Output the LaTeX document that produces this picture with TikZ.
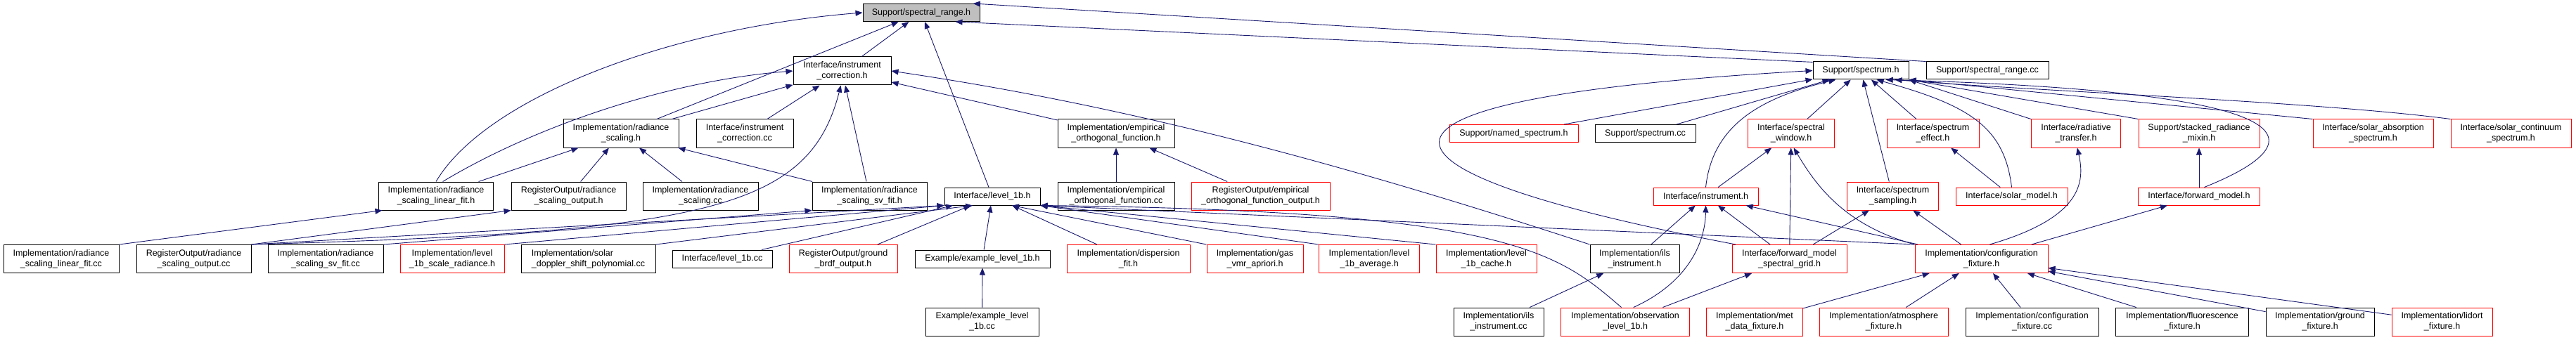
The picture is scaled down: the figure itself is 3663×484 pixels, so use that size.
\documentclass[tikz,border=0pt]{standalone}
\usepackage{fontspec}
\setmainfont{Liberation Sans}
\usetikzlibrary{arrows.meta}
\definecolor{edgeblue}{HTML}{191970}
\definecolor{rootgray}{HTML}{BFBFBF}
\tikzset{
  file/.style={draw=black, line width=1pt, inner sep=0pt, align=center,
    font=\fontsize{12.5}{15}\selectfont},
  two/.style={minimum height=40pt},
  one/.style={minimum height=25pt},
  trunc/.style={draw=red},
  inc/.style={draw=edgeblue, line width=0.9pt, -{Triangle[length=10pt,width=8pt]}},
}
\begin{document}
\begin{tikzpicture}[x=1pt,y=-1pt]
    \useasboundingbox (0,0) rectangle (3663,484);
    % top rows
    \node[file, one, fill=rootgray, minimum width=166pt] (srange) at (1310,18) {Support/spectral\_range.h};
    \node[file, two, minimum width=139pt] (icorrh) at (1197.5,101) {Interface/instrument\\\_correction.h};
    \node[file, one, minimum width=136pt] (spech) at (2646,100.5) {Support/spectrum.h};
    \node[file, one, minimum width=174pt] (srangecc) at (2826,100.5) {Support/spectral\_range.cc};
    \node[file, two, minimum width=164pt] (rscalh) at (883,190) {Implementation/radiance\\\_scaling.h};
    \node[file, two, minimum width=138pt] (icorrcc) at (1059,190) {Interface/instrument\\\_correction.cc};
    \node[file, two, minimum width=166pt] (eofh) at (1587,190) {Implementation/empirical\\\_orthogonal\_function.h};
    \node[file, trunc, one, minimum width=183pt] (namedh) at (2152.5,190) {Support/named\_spectrum.h};
    \node[file, one, minimum width=143pt] (speccc) at (2339.5,190) {Support/spectrum.cc};
    \node[file, trunc, two, minimum width=123pt] (windowh) at (2547,190) {Interface/spectral\\\_window.h};
    \node[file, trunc, two, minimum width=131pt] (effecth) at (2748.5,190) {Interface/spectrum\\\_effect.h};
    \node[file, trunc, two, minimum width=127pt] (rth) at (2952,190) {Interface/radiative\\\_transfer.h};
    \node[file, trunc, two, minimum width=172pt] (stackedh) at (3127,190) {Support/stacked\_radiance\\\_mixin.h};
    \node[file, trunc, two, minimum width=171pt] (sabsh) at (3374.5,190) {Interface/solar\_absorption\\\_spectrum.h};
    \node[file, trunc, two, minimum width=171pt] (sconth) at (3570.5,190) {Interface/solar\_continuum\\\_spectrum.h};
    % middle row
    \node[file, two, minimum width=163pt] (linfith) at (620,279) {Implementation/radiance\\\_scaling\_linear\_fit.h};
    \node[file, two, minimum width=163pt] (outputh) at (808.5,279) {RegisterOutput/radiance\\\_scaling\_output.h};
    \node[file, two, minimum width=164pt] (rscalcc) at (996,279) {Implementation/radiance\\\_scaling.cc};
    \node[file, two, minimum width=163pt] (svfith) at (1236.5,279) {Implementation/radiance\\\_scaling\_sv\_fit.h};
    \node[file, one, minimum width=136pt] (lvlh) at (1411,279.5) {Interface/level\_1b.h};
    \node[file, two, minimum width=166pt] (eofcc) at (1587,279) {Implementation/empirical\\\_orthogonal\_function.cc};
    \node[file, trunc, two, minimum width=197pt] (eofouth) at (1792.5,279) {RegisterOutput/empirical\\\_orthogonal\_function\_output.h};
    \node[file, trunc, one, minimum width=149pt] (instrh) at (2425.5,279.5) {Interface/instrument.h};
    \node[file, trunc, two, minimum width=130pt] (samplingh) at (2691.5,279) {Interface/spectrum\\\_sampling.h};
    \node[file, trunc, one, minimum width=159pt] (smodelh) at (2860.5,279.5) {Interface/solar\_model.h};
    \node[file, trunc, one, minimum width=173pt] (fwdmodelh) at (3127,279.5) {Interface/forward\_model.h};
    % lower rows
    \node[file, two, minimum width=164pt] (linfitcc) at (87,368.5) {Implementation/radiance\\\_scaling\_linear\_fit.cc};
    \node[file, two, minimum width=163pt] (outputcc) at (275.5,368.5) {RegisterOutput/radiance\\\_scaling\_output.cc};
    \node[file, two, minimum width=164pt] (svfitcc) at (463,368.5) {Implementation/radiance\\\_scaling\_sv\_fit.cc};
    \node[file, trunc, two, minimum width=148pt] (scaleradh) at (643,368.5) {Implementation/level\\\_1b\_scale\_radiance.h};
    \node[file, two, minimum width=191pt, align=left] (dopplercc) at (836.5,368.5) {Implementation/solar\\\_doppler\_shift\_polynomial.cc};
    \node[file, one, minimum width=142pt] (lvlcc) at (1027,368.5) {Interface/level\_1b.cc};
    \node[file, trunc, two, minimum width=154pt] (gbrdfh) at (1199,368.5) {RegisterOutput/ground\\\_brdf\_output.h};
    \node[file, one, minimum width=192pt] (exampleh) at (1397,368.5) {Example/example\_level\_1b.h};
    \node[file, trunc, two, minimum width=175pt] (disph) at (1604.5,368.5) {Implementation/dispersion\\\_fit.h};
    \node[file, trunc, two, minimum width=137pt] (gasvmrh) at (1784.5,368.5) {Implementation/gas\\\_vmr\_apriori.h};
    \node[file, trunc, two, minimum width=143pt] (avgh) at (1947,368.5) {Implementation/level\\\_1b\_average.h};
    \node[file, trunc, two, minimum width=143pt] (cacheh) at (2113.5,368.5) {Implementation/level\\\_1b\_cache.h};
    \node[file, two, minimum width=127pt] (ilsh) at (2324.5,368.5) {Implementation/ils\\\_instrument.h};
    \node[file, trunc, two, minimum width=163pt] (fwdgridh) at (2544.5,368.5) {Interface/forward\_model\\\_spectral\_grid.h};
    \node[file, trunc, two, minimum width=189pt] (configh) at (2817.5,368.5) {Implementation/configuration\\\_fixture.h};
    \node[file, two, minimum width=161pt] (examplecc) at (1396.5,458) {Example/example\_level\\\_1b.cc};
    \node[file, two, minimum width=128pt] (ilscc) at (2131,458) {Implementation/ils\\\_instrument.cc};
    \node[file, trunc, two, minimum width=183pt] (obsh) at (2311,458) {Implementation/observation\\\_level\_1b.h};
    \node[file, trunc, two, minimum width=137pt] (meth) at (2495,458) {Implementation/met\\\_data\_fixture.h};
    \node[file, trunc, two, minimum width=183pt] (atmosh) at (2678.5,458) {Implementation/atmosphere\\\_fixture.h};
    \node[file, two, minimum width=189pt] (configcc) at (2889.5,458) {Implementation/configuration\\\_fixture.cc};
    \node[file, two, minimum width=189pt] (fluorh) at (3103,458) {Implementation/fluorescence\\\_fixture.h};
    \node[file, two, minimum width=154pt] (groundh) at (3299,458) {Implementation/ground\\\_fixture.h};
    \node[file, trunc, two, minimum width=143pt] (lidorth) at (3472.5,458) {Implementation/lidort\\\_fixture.h};

    % includes of spectral_range.h
    \draw[inc] (icorrh) -- (srange);
    \draw[inc] (rscalh) -- (srange);
    \draw[inc] (linfith.north) .. controls (690,140) and (950,40) .. (srange.west);
    \draw[inc] (lvlh) -- (srange);
    \draw[inc] (spech.170) -- (srange.-15);
    \draw[inc] (srangecc.north west) -- (srange.10);
    % includes of instrument_correction.h
    \draw[inc] (rscalh) -- (icorrh);
    \draw[inc] (icorrcc) -- (icorrh);
    \draw[inc] (linfith.65) .. controls (760,180) and (950,115) .. (icorrh.west);
    \draw[inc] (svfith) -- (icorrh);
    \draw[inc] (outputcc.north east) .. controls (1000,330) and (1150,300) .. (icorrh.-95);
    \draw[inc] (eofh) -- (icorrh);
    \draw[inc] (ilsh.north west) .. controls (1900,230) and (1600,150) .. (icorrh.east);
    % radiance scaling
    \draw[inc] (linfith) -- (rscalh);
    \draw[inc] (outputh) -- (rscalh);
    \draw[inc] (rscalcc) -- (rscalh);
    \draw[inc] (svfith) -- (rscalh);
    \draw[inc] (linfitcc.north east) -- (linfith.-165);
    \draw[inc] (outputcc.north east) -- (outputh.south west);
    \draw[inc] (svfitcc.north east) -- (svfith.south west);
    \draw[inc] (eofcc) -- (eofh);
    \draw[inc] (eofouth) -- (eofh);
    % includes of level_1b.h
    \draw[inc] (outputcc.north east) -- (lvlh.south west);
    \draw[inc] (scaleradh.north east) -- (lvlh.south west);
    \draw[inc] (dopplercc.north east) -- (lvlh.-155);
    \draw[inc] (lvlcc) -- (lvlh);
    \draw[inc] (gbrdfh) -- (lvlh);
    \draw[inc] (exampleh) -- (lvlh);
    \draw[inc] (disph) -- (lvlh);
    \draw[inc] (gasvmrh.north west) -- (lvlh.-25);
    \draw[inc] (avgh.north west) -- (lvlh.south east);
    \draw[inc] (cacheh.north west) -- (lvlh.south east);
    \draw[inc] (obsh.105) .. controls (2215,360) and (2150,300) .. (lvlh.south east);
    \draw[inc] (configh.north west) -- (lvlh.south east);
    \draw[inc] (examplecc) -- (exampleh);
    % includes of spectrum.h
    \draw[inc] (namedh) -- (spech);
    \draw[inc] (speccc) -- (spech);
    \draw[inc] (windowh) -- (spech);
    \draw[inc] (instrh.north) .. controls (2435,180) and (2500,140) .. (spech.-160);
    \draw[inc] (samplingh) -- (spech);
    \draw[inc] (effecth) -- (spech);
    \draw[inc] (smodelh.north) .. controls (2850,180) and (2800,150) .. (spech.-30);
    \draw[inc] (rth.north west) -- (spech.south east);
    \draw[inc] (stackedh.north west) -- (spech.south east);
    \draw[inc] (fwdmodelh.60) .. controls (3300,200) and (3290,130) .. (spech.-20);
    \draw[inc] (sabsh.north west) -- (spech.south east);
    \draw[inc] (sconth.north west) .. controls (3300,145) and (2900,130) .. (spech.-15);
    \draw[inc] (fwdgridh.165) .. controls (1900,240) and (1880,140) .. (spech.west);
    % interface headers
    \draw[inc] (instrh) -- (windowh);
    \draw[inc] (fwdgridh) -- (windowh);
    \draw[inc] (configh.north west) .. controls (2620,320) and (2580,260) .. (windowh.-80);
    \draw[inc] (smodelh) -- (effecth);
    \draw[inc] (configh.60) .. controls (2960,310) and (2965,260) .. (rth.-85);
    \draw[inc] (fwdmodelh) -- (stackedh);
    \draw[inc] (ilsh) -- (instrh);
    \draw[inc] (obsh.60) .. controls (2405,400) and (2425,340) .. (instrh.south);
    \draw[inc] (fwdgridh) -- (instrh);
    \draw[inc] (configh) -- (instrh);
    \draw[inc] (fwdgridh) -- (samplingh);
    \draw[inc] (configh) -- (samplingh);
    \draw[inc] (configh) -- (fwdmodelh);
    \draw[inc] (ilscc) -- (ilsh);
    \draw[inc] (obsh) -- (fwdgridh);
    % fixtures
    \draw[inc] (meth) -- (configh);
    \draw[inc] (atmosh) -- (configh);
    \draw[inc] (configcc) -- (configh);
    \draw[inc] (fluorh) -- (configh);
    \draw[inc] (groundh) -- (configh);
    \draw[inc] (lidorth) -- (configh);
\end{tikzpicture}
\end{document}
